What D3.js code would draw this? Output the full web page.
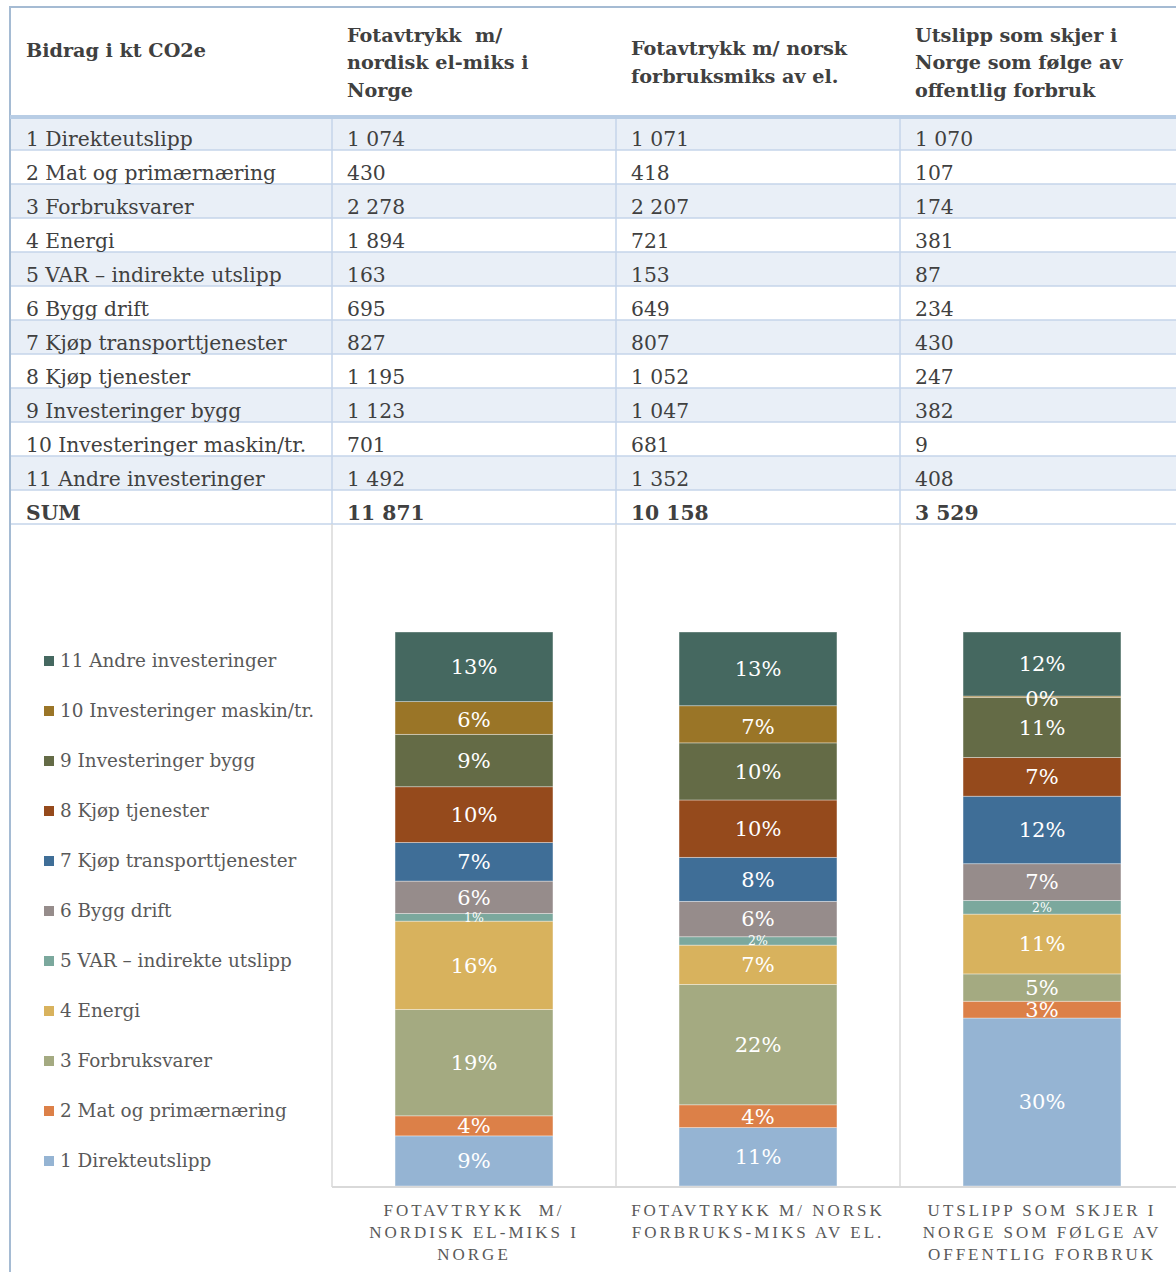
<!DOCTYPE html>
<html>
<head>
<meta charset="utf-8">
<script src="https://cdn.jsdelivr.net/npm/d3@7"></script>
<style>
    body { margin: 0; background: #fff; }
    text { font-family: "DejaVu Serif", serif; white-space: pre; }
    text.axis-label { font-family: "Liberation Serif", serif; }
</style>
</head>
<body>
<div id="chart"></div>
<script>
const categories = ["1 Direkteutslipp", "2 Mat og primærnæring", "3 Forbruksvarer", "4 Energi",
    "5 VAR – indirekte utslipp", "6 Bygg drift", "7 Kjøp transporttjenester", "8 Kjøp tjenester",
    "9 Investeringer bygg", "10 Investeringer maskin/tr.", "11 Andre investeringer"];
const nordisk = [1074, 430, 2278, 1894, 163, 695, 827, 1195, 1123, 701, 1492];
const norsk = [1071, 418, 2207, 721, 153, 649, 807, 1052, 1047, 681, 1352];
const iNorge = [1070, 107, 174, 381, 87, 234, 430, 247, 382, 9, 408];
const sums = [11871, 10158, 3529];
const series = ["nordisk", "norsk", "iNorge"];

const tableHeaders = [
    ["Bidrag i kt CO2e"],
    ["Fotavtrykk  m/", "nordisk el-miks i", "Norge"],
    ["Fotavtrykk m/ norsk", "forbruksmiks av el."],
    ["Utslipp som skjer i", "Norge som følge av", "offentlig forbruk"]
];
const axisLabels = [
    ["FOTAVTRYKK  M/", "NORDISK EL-MIKS I", "NORGE"],
    ["FOTAVTRYKK M/ NORSK", "FORBRUKS-MIKS AV EL."],
    ["UTSLIPP SOM SKJER I", "NORGE SOM FØLGE AV", "OFFENTLIG FORBRUK"]
];
const colors = ["#95b4d3", "#dc8048", "#a4aa81", "#d8b25d", "#7ba89d", "#968c8b",
    "#3f6e97", "#954a1c", "#646b46", "#9a7527", "#456860"];

//setting svg dimensions
const width = 1176;
const height = 1272;
const colEdges = [10, 332, 616, 900, 1184];
const headerBottom = 117;
const firstRowBottom = 150;
const rowH = 34;

const svg = d3.select("#chart")
    .append("svg")
    .attr("width", width)
    .attr("height", height);

const nf = d3.formatLocale({ decimal: ",", thousands: " ", grouping: [3], currency: ["", ""] }).format(",d");

//table rows: 11 categories and the sum row
const columns = [nordisk, norsk, iNorge];
const rows = categories.map((c, i) => ({ label: c, values: columns.map(col => col[i]), bold: false }));
rows.push({ label: "SUM", values: sums, bold: true });

const rowBottom = i => firstRowBottom + i * rowH;
const rowTop = i => i === 0 ? headerBottom : rowBottom(i - 1);

//striped row backgrounds
svg.selectAll(".row-bg")
    .data(rows)
    .enter()
    .append("rect")
    .attr("class", "row-bg")
    .attr("x", colEdges[0])
    .attr("y", (d, i) => rowTop(i))
    .attr("width", width - colEdges[0])
    .attr("height", (d, i) => rowBottom(i) - rowTop(i))
    .attr("fill", (d, i) => i % 2 === 0 && !d.bold ? "#e9eff7" : "#fff");

//horizontal row lines
svg.selectAll(".row-line")
    .data(rows)
    .enter()
    .append("line")
    .attr("x1", colEdges[0])
    .attr("x2", width)
    .attr("y1", (d, i) => rowBottom(i))
    .attr("y2", (d, i) => rowBottom(i))
    .attr("stroke", "#c4d5ea")
    .attr("stroke-width", 1.5);

//column lines inside table
svg.selectAll(".col-line")
    .data(colEdges.slice(1, 4))
    .enter()
    .append("line")
    .attr("x1", d => d).attr("x2", d => d)
    .attr("y1", headerBottom)
    .attr("y2", rowBottom(rows.length - 1))
    .attr("stroke", "#c4d5ea")
    .attr("stroke-width", 1.5);

//column lines through the chart area
svg.selectAll(".grid-line")
    .data(colEdges.slice(1, 4))
    .enter()
    .append("line")
    .attr("x1", d => d).attr("x2", d => d)
    .attr("y1", rowBottom(rows.length - 1))
    .attr("y2", 1187)
    .attr("stroke", "#d9d9d9")
    .attr("stroke-width", 1.5);

//outer borders
svg.append("line")
    .attr("x1", colEdges[0]).attr("x2", width)
    .attr("y1", 7).attr("y2", 7)
    .attr("stroke", "#a5bbd3").attr("stroke-width", 2);
svg.append("line")
    .attr("x1", colEdges[0]).attr("x2", colEdges[0])
    .attr("y1", 6).attr("y2", height)
    .attr("stroke", "#a5bbd3").attr("stroke-width", 2);
svg.append("line")
    .attr("x1", colEdges[0]).attr("x2", width)
    .attr("y1", headerBottom).attr("y2", headerBottom)
    .attr("stroke", "#b8cde5").attr("stroke-width", 4);

//header texts
tableHeaders.forEach((lines, c) => {
    const startY = c === 0 ? 57 : 69 - (lines.length - 1) * 27.5 / 2;
    svg.append("text")
        .attr("font-size", 19.2)
        .attr("font-weight", "bold")
        .attr("fill", "#404040")
        .selectAll("tspan")
        .data(lines)
        .enter()
        .append("tspan")
        .attr("x", colEdges[c] + (c === 0 ? 16 : 15))
        .attr("y", (d, i) => startY + i * 27.5)
        .text(d => d);
});

//table cell texts
const rowG = svg.selectAll(".row")
    .data(rows)
    .enter()
    .append("g")
    .attr("class", "row")
    .attr("font-size", 20.3)
    .attr("fill", "#404040")
    .attr("font-weight", d => d.bold ? "bold" : "normal");

rowG.append("text")
    .attr("x", colEdges[0] + 16)
    .attr("y", (d, i) => rowBottom(i) - 4)
    .text(d => d.label);

rowG.each(function (d, i) {
    d3.select(this).selectAll(".val")
        .data(d.values)
        .enter()
        .append("text")
        .attr("x", (v, c) => colEdges[c + 1] + 15)
        .attr("y", rowBottom(i) - 4)
        .text(v => nf(v));
});

//stacked 100% chart
const chartData = series.map((s, j) => {
    let obj = { name: s };
    categories.forEach((c, i) => { obj[c] = columns[j][i]; });
    return obj;
});

const stack = d3.stack()
    .keys(categories)
    .offset(d3.stackOffsetExpand);
const stacked = stack(chartData);

const xScale = d3.scaleBand()
    .domain(series)
    .range([332, 1184])
    .paddingInner(0.444)
    .paddingOuter(0.222);
const yScale = d3.scaleLinear()
    .domain([0, 1])
    .range([1186, 632]);

const layers = svg.selectAll(".layer")
    .data(stacked)
    .enter()
    .append("g")
    .attr("class", "layer")
    .attr("fill", (d, i) => colors[i]);

layers.selectAll("rect")
    .data(d => d)
    .enter()
    .append("rect")
    .attr("x", d => xScale(d.data.name))
    .attr("y", d => yScale(d[1]))
    .attr("width", xScale.bandwidth())
    .attr("height", d => yScale(d[0]) - yScale(d[1]))
    .attr("stroke", "rgba(255,255,255,0.45)")
    .attr("stroke-width", 0.8);

//percent labels, drawn after all bars so none are hidden
const pct = d3.format(".0%");
const labelG = svg.append("g");
stacked.forEach((layer, li) => {
    labelG.selectAll(".lbl-" + li)
        .data(layer)
        .enter()
        .append("text")
        .attr("x", d => xScale(d.data.name) + xScale.bandwidth() / 2)
        .attr("y", d => yScale((d[0] + d[1]) / 2) + (li === 9 ? 2 : 0))
        .attr("dy", "0.35em")
        .attr("text-anchor", "middle")
        .attr("fill", "#fff")
        .attr("font-size", li === 4 ? 12.5 : 21)
        .text(d => pct(d[1] - d[0]));
});

//x axis line
svg.append("line")
    .attr("x1", 332).attr("x2", width)
    .attr("y1", 1187).attr("y2", 1187)
    .attr("stroke", "#d9d9d9").attr("stroke-width", 2);

//x axis labels
axisLabels.forEach((lines, j) => {
    svg.append("text")
        .attr("class", "axis-label")
        .attr("text-anchor", "middle")
        .attr("font-size", 17)
        .attr("letter-spacing", 3)
        .attr("fill", "#595959")
        .selectAll("tspan")
        .data(lines)
        .enter()
        .append("tspan")
        .attr("x", xScale(series[j]) + xScale.bandwidth() / 2)
        .attr("y", (d, i) => 1216 + i * 22)
        .text(d => d);
});

//legend, top entry is the last category
const legend = svg.selectAll(".legend")
    .data(categories.slice().reverse())
    .enter()
    .append("g")
    .attr("class", "legend")
    .attr("transform", (d, i) => "translate(44," + (661 + i * 50) + ")");

legend.append("rect")
    .attr("x", 0).attr("y", -5)
    .attr("width", 10).attr("height", 10)
    .attr("fill", d => colors[categories.indexOf(d)]);

legend.append("text")
    .attr("x", 16)
    .attr("dy", "0.35em")
    .attr("font-size", 18.4)
    .attr("fill", "#595959")
    .text(d => d);
</script>
</body>
</html>
